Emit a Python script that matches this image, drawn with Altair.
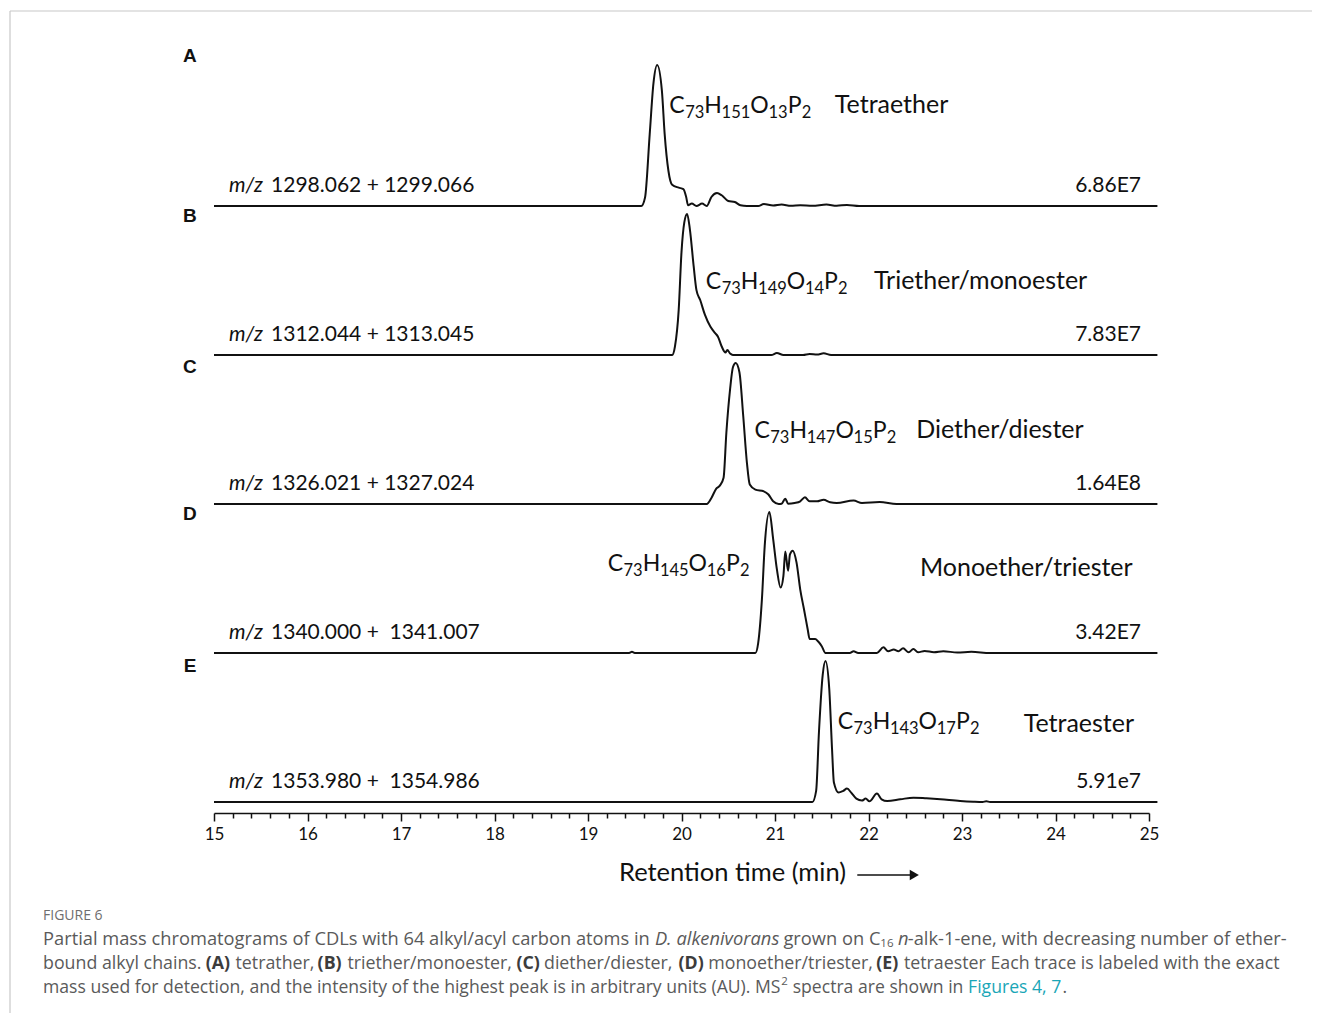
import altair as alt
import pandas as pd

# ------------------------------------------------------------------ data
panel_letters = ["A", "B", "C", "D", "E"]
mz_values = ["1298.062 + 1299.066", "1312.044 + 1313.045", "1326.021 + 1327.024",
             "1340.000 +\u00a0 1341.007", "1353.980 +\u00a0 1354.986"]
max_intensity = ["6.86E7", "7.83E7", "1.64E8", "3.42E7", "5.91e7"]
formulas = [
    [("C", 0), ("73", 1), ("H", 0), ("151", 1), ("O", 0), ("13", 1), ("P", 0), ("2", 1)],
    [("C", 0), ("73", 1), ("H", 0), ("149", 1), ("O", 0), ("14", 1), ("P", 0), ("2", 1)],
    [("C", 0), ("73", 1), ("H", 0), ("147", 1), ("O", 0), ("15", 1), ("P", 0), ("2", 1)],
    [("C", 0), ("73", 1), ("H", 0), ("145", 1), ("O", 0), ("16", 1), ("P", 0), ("2", 1)],
    [("C", 0), ("73", 1), ("H", 0), ("143", 1), ("O", 0), ("17", 1), ("P", 0), ("2", 1)],
]
lipid_names = ["Tetraether", "Triether/monoester", "Diether/diester",
               "Monoether/triester", "Tetraester"]

# retention time (min) and relative intensity (% of highest peak)
A_time = [15.0, 19.57, 19.61, 19.66, 19.70, 19.74, 19.79, 19.82, 19.86, 19.90, 19.97,
          20.02, 20.05, 20.07, 20.11, 20.16, 20.22, 20.27, 20.32, 20.38, 20.43, 20.50,
          20.57, 20.63, 20.70, 20.82, 20.88, 20.98, 21.07, 21.17, 21.27, 21.40, 21.55,
          21.66, 21.77, 21.90, 22.2, 25.09]
A_rel = [0, 0, 6, 51, 87, 100, 82, 51, 25, 15, 13,
         12, 6.4, 0.5, 1.7, 0, 1.7, 0, 6.4, 9.2, 7.6, 3.5,
         2.8, 0.5, 0, 0, 1.4, 0.3, 1.0, 0.2, 0.5, 0.1, 1.0,
         0.2, 0.7, 0, 0, 0]

B_time = [15.0, 19.90, 19.93, 19.97, 20.00, 20.03, 20.06, 20.09, 20.13, 20.16, 20.20,
          20.25, 20.31, 20.36, 20.39, 20.43, 20.47, 20.49, 20.52, 20.55, 20.96, 21.02,
          21.09, 21.30, 21.37, 21.45, 21.52, 21.60, 25.09]
B_rel = [0, 0, 6, 32, 73, 94, 100, 89, 63, 46, 39,
         28.6, 20, 15.5, 13, 6, 1.7, 3.6, 1, 0, 0, 1.4,
         0, 0, 0.7, 0.3, 1.2, 0, 0]

C_time = [15.0, 20.27, 20.32, 20.37, 20.41, 20.45, 20.48, 20.52, 20.55, 20.58, 20.62,
          20.66, 20.70, 20.73, 20.79, 20.88, 20.93, 20.98, 21.04, 21.07, 21.11, 21.14,
          21.21, 21.27, 21.32, 21.37, 21.45, 21.52, 21.59, 21.66, 21.84, 21.93, 22.12,
          22.30, 25.09]
C_rel = [0, 0, 4.3, 10.7, 13, 18.6, 50.7, 81.6, 97, 100, 93.3,
         62.6, 29, 13.8, 10.2, 9, 6.7, 1.9, 0, 0.2, 3.8, 0.2,
         0.7, 1.9, 4.8, 1.9, 1.9, 3.0, 1.2, 0.7, 2.4, 0.7, 1.4,
         0, 0]

D_time = [15.0, 19.44, 19.47, 19.50, 20.79, 20.82, 20.86, 20.89, 20.94, 20.98, 21.02,
          21.06, 21.09, 21.11, 21.14, 21.16, 21.19, 21.23, 21.27, 21.31, 21.35, 21.37,
          21.43, 21.46, 21.50, 21.54, 21.80, 21.84, 21.89, 22.09, 22.16, 22.21, 22.27,
          22.32, 22.37, 22.43, 22.48, 22.53, 22.60, 22.70, 22.80, 22.95, 23.10, 23.30,
          25.09]
D_rel = [0, 0, 0.8, 0, 0, 7, 38, 76, 100, 81, 59.5,
         46.4, 54.7, 71.9, 58.3, 70, 72.6, 64.3, 45, 31, 16.7, 10,
         10, 8.3, 4.8, 0, 0, 1.2, 0, 0, 4, 1.2, 2.4,
         1.2, 3.3, 0.5, 2.9, 0.5, 1.5, 0.5, 1.2, 0.4, 0.8, 0,
         0]

E_time = [15.0, 21.40, 21.44, 21.47, 21.51, 21.54, 21.58, 21.61, 21.63, 21.68, 21.73,
          21.77, 21.82, 21.87, 21.93, 21.97, 22.01, 22.09, 22.14, 22.20, 22.34, 22.48,
          22.62, 22.77, 22.98, 23.12, 23.22, 23.26, 23.30, 25.09]
E_rel = [0, 0, 7.9, 49.5, 90, 100, 80.5, 37.6, 13.8, 6.7, 7.9,
         9.5, 6.2, 2.4, 1.0, 2.4, 0.5, 6.0, 1.9, 0.7, 1.9, 3.1,
         2.6, 1.9, 0.7, 0.2, 0, 0.6, 0, 0]

x_ticks = [round(15 + 0.2 * i, 1) for i in range(51)]

caption_head = "FIGURE 6"
# caption lines as (text, style, preceded-by-space) runs
caption_runs = [
    [("Partial mass chromatograms of CDLs with 64 alkyl/acyl carbon atoms in", "n", False),
     ("D. alkenivorans", "i", True), ("grown on C", "n", True), ("16", "sub", False),
     ("n", "i", True), ("-alk-1-ene, with decreasing number of ether-", "n", False)],
    [("bound alkyl chains.", "n", False), ("(A)", "b", True), ("tetrather,", "n", True),
     ("(B)", "b", True), ("triether/monoester,", "n", True), ("(C)", "b", True),
     ("diether/diester,", "n", True), ("(D)", "b", True),
     ("monoether/triester,", "n", True), ("(E)", "b", True),
     ("tetraester Each trace is labeled with the exact", "n", True)],
    [("mass used for detection, and the intensity of the highest peak is in arbitrary units (AU). MS", "n", False),
     ("2", "sup", False), ("spectra are shown in", "n", True), ("Figures 4, 7", "link", True),
     (".", "n", False)],
]

# ------------------------------------------------------------------ layout
PX_PER_MIN = 93.5          # 935 px plot width for 10 min
TRACE_GAP = 149.0          # px between trace baselines
PEAK = 141.0 / TRACE_GAP   # height of each normalised trace in baseline units
offsets = [4, 3, 2, 1, 0]
Y_DOMAIN = [-11 / TRACE_GAP, 782 / TRACE_GAP]

letter_t = 14.743
letter_y = [5.01, 3.93, 2.92, 1.93, 0.91]
mz_t, mz_num_t, int_t = 15.16, 15.61, 24.914
label_dy = 0.094
formula_t = [19.87, 20.26, 20.78, 19.21, 21.67]
formula_dy = [0.624, 0.443, 0.443, 0.550, 0.490]
name_t = [21.64, 22.06, 22.51, 22.55, 23.66]
name_dy = [0.624, 0.443, 0.443, 0.517, 0.470]
MAIN_FS, SUB_FS = 23, 16.5
char_em = {"C": 0.69, "H": 0.75, "O": 0.79, "P": 0.61}
DIGIT_EM = 0.58
arrow_y = -0.49

# caption layout: run widths measured at 17 px Open Sans, scaled to each line's size
cap_line_fs = [18.3, 17.8, 17.6]
cap_run_w17 = [
    [564, 115, 90, 13, 9, 352],
    [151, 24, 74, 24, 157, 22, 124, 24, 156, 22, 359],
    [713, 7, 165, 91, 4],
]
cap_left = 43 - 214         # caption left edge relative to plot area
cap_line_y = [920, 944, 968]

FONT = "Lato"
CAP_FONT = "Open Sans"
INK = "#111111"

# ------------------------------------------------------------------ frames
series = [(A_time, A_rel), (B_time, B_rel), (C_time, C_rel), (D_time, D_rel), (E_time, E_rel)]
rows = []
for letter, off, (ts, rs) in zip(panel_letters, offsets, series):
    for t, r in zip(ts, rs):
        rows.append({"panel": letter, "t": t, "y": off + r / 100.0 * PEAK})
traces = pd.DataFrame(rows)

labels = pd.DataFrame({
    "letter": panel_letters, "letter_y": letter_y,
    "mz": mz_values, "int": max_intensity, "name": lipid_names, "name_t": name_t,
    "label_y": [o + label_dy for o in offsets],
    "name_y": [o + d for o, d in zip(offsets, name_dy)],
})
labels["letter_t"] = letter_t
labels["mz_t"] = mz_t
labels["mz_num_t"] = mz_num_t
labels["int_t"] = int_t
labels["mz_prefix"] = "m/z"

seg_rows = []
for f, t0, off, dy in zip(formulas, formula_t, offsets, formula_dy):
    t = t0
    for txt, sub in f:
        seg_rows.append({"t": t, "y": off + dy, "text": txt, "sub": sub})
        w = len(txt) * DIGIT_EM * SUB_FS if sub else char_em[txt] * MAIN_FS
        t += w / PX_PER_MIN
formula_df = pd.DataFrame(seg_rows)

arrow_df = pd.DataFrame({"t": [21.88, 22.47], "y": [arrow_y, arrow_y]})
arrow_head = pd.DataFrame({"t": [22.49], "y": [arrow_y]})

# ------------------------------------------------------------------ chart
xscale = alt.Scale(domain=[15, 25], nice=False, zero=False)
yscale = alt.Scale(domain=Y_DOMAIN, nice=False, zero=False)
is_major = "abs(datum.value - round(datum.value)) < 0.01"

xaxis = alt.Axis(
    values=x_ticks,
    labelExpr=f"{is_major} ? format(datum.value, 'd') : ''",
    labelOverlap=False, labelFlush=False,
    tickSize={"condition": {"test": is_major, "value": 8}, "value": 5},
    tickWidth=1.5, tickColor=INK,
    domainColor=INK, domainWidth=1.6,
    labelFont=FONT, labelFontSize=17, labelColor=INK, labelPadding=5,
    grid=False,
    title="Retention time (min)", titleFont=FONT, titleFontSize=25.5,
    titleFontWeight="normal", titleColor=INK,
    titleX=518, titleY=67, titleAlign="center", titleBaseline="alphabetic",
)


def X(field):
    return alt.X(field, type="quantitative", scale=xscale, axis=xaxis)


def Y(field):
    return alt.Y(field, type="quantitative", scale=yscale, axis=None)


lines = alt.Chart(traces).mark_line(
    color=INK, strokeWidth=2, interpolate="monotone"
).encode(x=X("t"), y=Y("y"), detail="panel:N")

base_lab = alt.Chart(labels)
letters = base_lab.mark_text(font="Liberation Sans", fontSize=19, fontWeight="bold",
                             color=INK, baseline="middle", align="center").encode(
    x=X("letter_t"), y=Y("letter_y"), text="letter:N")
mz_pre = base_lab.mark_text(font=FONT, fontSize=21, fontStyle="italic", color=INK,
                            baseline="alphabetic", align="left").encode(
    x=X("mz_t"), y=Y("label_y"), text="mz_prefix:N")
mz_num = base_lab.mark_text(font=FONT, fontSize=21, color=INK,
                            baseline="alphabetic", align="left").encode(
    x=X("mz_num_t"), y=Y("label_y"), text="mz:N")
intens = base_lab.mark_text(font=FONT, fontSize=21, color=INK,
                            baseline="alphabetic", align="right").encode(
    x=X("int_t"), y=Y("label_y"), text="int:N")
names = base_lab.mark_text(font=FONT, fontSize=25, color=INK,
                           baseline="alphabetic", align="left").encode(
    x=X("name_t"), y=Y("name_y"), text="name:N")

f_main = alt.Chart(formula_df).transform_filter("datum.sub == 0").mark_text(
    font=FONT, fontSize=MAIN_FS, color=INK, baseline="alphabetic", align="left"
).encode(x=X("t"), y=Y("y"), text="text:N")
f_sub = alt.Chart(formula_df).transform_filter("datum.sub == 1").mark_text(
    font=FONT, fontSize=SUB_FS, color=INK, baseline="alphabetic", align="left", dy=5
).encode(x=X("t"), y=Y("y"), text="text:N")

arrow_line = alt.Chart(arrow_df).mark_line(color=INK, strokeWidth=1.6).encode(
    x=X("t"), y=Y("y"))
arrow_tip = alt.Chart(arrow_head).mark_point(shape="triangle-right", filled=True,
                                             color=INK, size=110, opacity=1).encode(
    x=X("t"), y=Y("y"))

one = pd.DataFrame({"k": [0]})
frame_top = alt.Chart(one).mark_rule(color="#c8c8c8", strokeWidth=1.2).encode(
    x=alt.value(-204), x2=alt.value(1106), y=alt.value(-9))
frame_left = alt.Chart(one).mark_rule(color="#c8c8c8", strokeWidth=1.2).encode(
    x=alt.value(-204), y=alt.value(-9), y2=alt.value(1001))

cap_layers = [alt.Chart(one).mark_text(
    text=caption_head, font=CAP_FONT, fontSize=14, color="#6e6e6e",
    align="left", baseline="middle").encode(x=alt.value(cap_left), y=alt.value(896))]

style_props = {
    "n": dict(),
    "i": dict(fontStyle="italic"),
    "b": dict(fontWeight="bold", color="#3c3c3c"),
    "sub": dict(fontSize=11.5, dy=4),
    "sup": dict(fontSize=11.5, dy=-6),
    "link": dict(color="#1aa6b7"),
}
for runs, widths, ly, fs in zip(caption_runs, cap_run_w17, cap_line_y, cap_line_fs):
    x = cap_left
    scale_w = fs / 17.0
    space_w = 0.26 * fs
    for (txt, style, sp), w in zip(runs, widths):
        if sp:
            x += space_w
        props = dict(font=CAP_FONT, fontSize=fs, color="#5a5a5a",
                     align="left", baseline="middle")
        props.update(style_props[style])
        cap_layers.append(alt.Chart(one).mark_text(text=txt, **props).encode(
            x=alt.value(round(x, 1)), y=alt.value(ly)))
        x += w * (scale_w if style not in ("sub", "sup") else 1.0)

chart = alt.layer(
    frame_top, frame_left, lines, letters, mz_pre, mz_num, intens, names,
    f_main, f_sub, arrow_line, arrow_tip, *cap_layers
).properties(
    width=935, height=793,
    padding={"left": 206, "top": 12, "right": 163, "bottom": 200},
    autosize=alt.AutoSizeParams(type="none"),
    background="white",
).configure_view(stroke=None)

chart.save("out.html", embed_options={"renderer": "svg", "actions": False})
